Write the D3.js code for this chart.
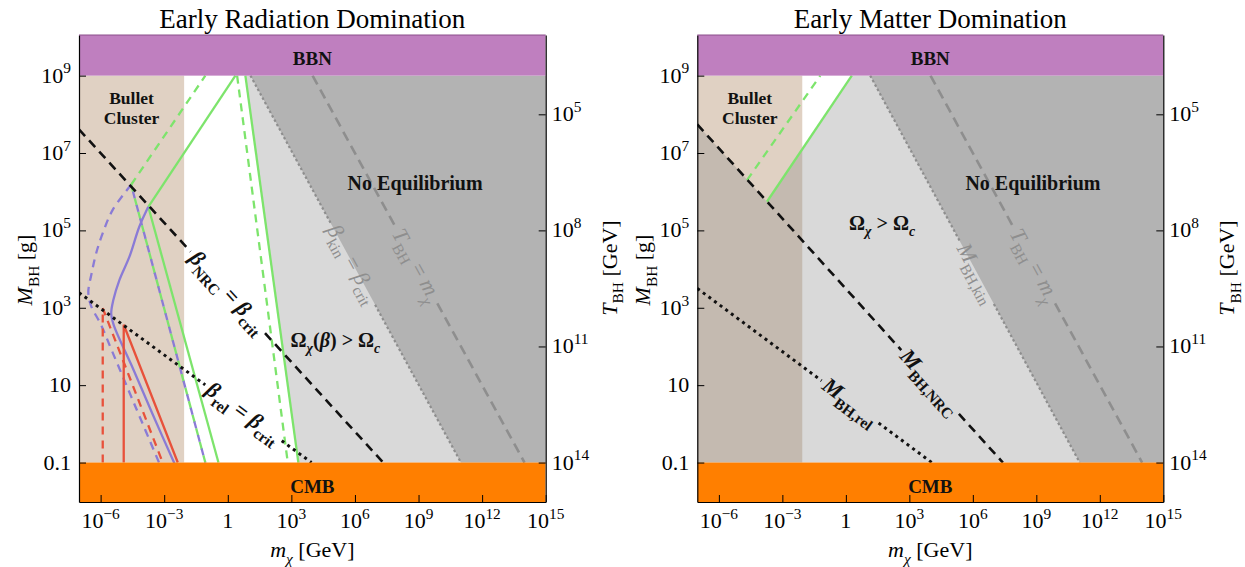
<!DOCTYPE html>
<html>
<head>
<meta charset="utf-8">
<script src="https://d3js.org/d3.v7.min.js"></script>
<style>
  body { margin: 0; background: #fff; }
  svg { font-family: "Liberation Serif", "DejaVu Serif", serif; }
</style>
</head>
<body>
<svg width="1245" height="567"></svg>
<script>
// every curve value is [log10 m_chi / GeV, log10 M_BH / g]
var xTicks = [-6, -3, 0, 3, 6, 9, 12, 15];
var yTicks = [9, 7, 5, 3, 1, -1];
var yTickLabels = ["9", "7", "5", "3", "10", "0.1"];
var tTicks = [5, 8, 11, 14];          // T_BH in GeV, T_BH = 1e13 g GeV / M_BH
var bbnMass = 9, cmbMass = -1, bulletMass = -2.06;

// early radiation domination
var nrcRD = [[-7.02, 7.61], [7.33, -1]];
var relRD = [[-7.02, 3.39], [3.95, -1]];
var kinRD = [[1.07, 9], [11.0, -1]];
var tbhRD = [[4, 9], [14, -1]];
var greenRiseRD = [[-3.75, 5.61], [0.36, 9]];
var greenSteepRD = [[0.83, 9], [3.33, -1]];
var greenLowRD = [[-3.75, 5.61], [-0.44, -1]];
var greenRiseDashRD = [[-4.56, 6.18], [-1.06, 9]];
var greenSteepDashRD = [[0.44, 9], [2.83, -1]];
var greenLowDashRD = [[-4.56, 6.18], [-1.06, -1]];
var purpleRD = [[-3.75, 5.61], [-4.17, 5.10], [-4.64, 4.32], [-5.11, 3.72], [-5.40, 3.20],
  [-5.50, 2.85], [-5.38, 2.55], [-4.49, 1.45], [-3.54, 0.24], [-2.52, -1.02]];
var purpleDashRD = [[-4.56, 6.18], [-5.43, 5.53], [-5.90, 4.93], [-6.21, 4.41], [-6.42, 3.90],
  [-6.58, 3.40], [-6.45, 3.05], [-6.0, 2.58], [-5.43, 1.84], [-4.33, 0.41], [-3.23, -1.02]];
var redRD = [[-4.91, -1], [-4.91, 2.56], [-2.36, -1]];
var redDashRD = [[-5.90, -1], [-5.90, 2.99], [-3.07, -1]];

// early matter domination
var nrcMD = [[-7.02, 7.74], [7.42, -1]];
var relMD = [[-7.02, 3.50], [4.06, -1]];
var kinMD = [[1.15, 9], [11.05, -1]];
var tbhMD = [[4, 9], [14, -1]];
var greenRiseMD = [[-3.73, 5.74], [0.28, 9]];
var greenRiseDashMD = [[-4.67, 6.30], [-1.21, 9]];

var svg = d3.select("svg");
var plotTop = 35, plotBottom = 502;
var green = "#7de46c", purple = "#8a7bd6", red = "#e8513b", grey = "#8e8e8e";

var y = d3.scaleLog().domain([Math.pow(10, -2.02), Math.pow(10, 10.05)]).range([plotBottom, plotTop]);

function rich(sel, parts, size) {
  var cur = 0;
  parts.forEach(function (p) {
    var off = p.sub ? size * 0.3 : p.sup ? -size * 0.42 : 0;
    var ts = sel.append("tspan").text(p.t).attr("dy", off - cur);
    cur = off;
    if (p.sub || p.sup) ts.attr("font-size", size * 0.7);
    if (p.i) ts.attr("font-style", "italic");
    if (p.b) ts.attr("font-weight", "bold");
  });
}

function beta(sub) { return [{ t: "β", i: true }, { t: sub, sub: true }]; }

var panels = [
  {
    left: 79, right: 545.7, title: "Early Radiation Domination",
    nrc: nrcRD, rel: relRD, kin: kinRD, tbh: tbhRD,
    lightGrey: greenSteepRD.concat([[15.5, -1], [15.5, 9]]),
    curves: [
      { d: greenRiseRD, c: green }, { d: greenSteepRD, c: green }, { d: greenLowRD, c: green },
      { d: greenRiseDashRD, c: green, dash: "8,6" }, { d: greenSteepDashRD, c: green, dash: "8,6" },
      { d: greenLowDashRD, c: green, dash: "8,6" },
      { d: greenLowDashRD, c: purple, dash: "7,7", off: 7 },
      { d: purpleRD, c: purple, smooth: true }, { d: purpleDashRD, c: purple, dash: "8,6", smooth: true },
      { d: redRD, c: red }, { d: redDashRD, c: red, dash: "8,6" }
    ],
    nrcLabel: { at: 0.0, parts: beta("NRC").concat([{ t: " = " }], beta("crit")) },
    relLabel: { at: 0.74, parts: beta("rel").concat([{ t: " = " }], beta("crit")) },
    kinLabel: { at: 5.9, parts: beta("kin").concat([{ t: " = " }], beta("crit")) },
    tbhLabel: { at: 8.9, parts: [{ t: "T", i: true }, { t: "BH", sub: true }, { t: " = " }, { t: "m", i: true }, { t: "χ", sub: true, i: true }] },
    omega: { at: [5.08, 1.99], parts: [{ t: "Ω" }, { t: "χ", sub: true, i: true }, { t: "(" }, { t: "β", i: true }, { t: ") > Ω" }, { t: "c", sub: true, i: true }] }
  },
  {
    left: 697.3, right: 1163.3, title: "Early Matter Domination",
    nrc: nrcMD, rel: relMD, kin: kinMD, tbh: tbhMD,
    lightGrey: [nrcMD[0]].concat(greenRiseMD, [[15.5, 9], [15.5, -1], [-7.02, -1]]),
    curves: [
      { d: greenRiseMD, c: green }, { d: greenRiseDashMD, c: green, dash: "8,6" }
    ],
    nrcLabel: { at: 3.98, parts: [{ t: "M", i: true }, { t: "BH,NRC", sub: true }] },
    relLabel: { at: 0.2, parts: [{ t: "M", i: true }, { t: "BH,rel", sub: true }] },
    kinLabel: { at: 6.2, parts: [{ t: "M", i: true }, { t: "BH,kin", sub: true }] },
    tbhLabel: { at: 8.9, parts: [{ t: "T", i: true }, { t: "BH", sub: true }, { t: " = " }, { t: "m", i: true }, { t: "χ", sub: true, i: true }] },
    omega: { at: [1.71, 5.0], parts: [{ t: "Ω" }, { t: "χ", sub: true, i: true }, { t: " > Ω" }, { t: "c", sub: true, i: true }] }
  }
];

panels.forEach(function (pn, k) {
  var x = d3.scaleLog().domain([Math.pow(10, -7.02), 1e15]).range([pn.left, pn.right]);
  var P = function (d) { return [x(Math.pow(10, d[0])), y(Math.pow(10, d[1]))]; };
  var line = d3.line().x(function (d) { return P(d)[0]; }).y(function (d) { return P(d)[1]; });
  var smooth = d3.line().x(function (d) { return P(d)[0]; }).y(function (d) { return P(d)[1]; })
    .curve(d3.curveCatmullRom.alpha(0.5));

  var clipId = "clip" + k;
  svg.append("clipPath").attr("id", clipId).append("rect")
    .attr("x", pn.left).attr("y", plotTop)
    .attr("width", pn.right - pn.left).attr("height", plotBottom - plotTop);

  var g = svg.append("g").attr("clip-path", "url(#" + clipId + ")");
  var x0 = x.domain()[0];

  // regions
  g.append("rect")
    .attr("x", x(x0)).attr("y", y(Math.pow(10, bbnMass)))
    .attr("width", x(Math.pow(10, bulletMass)) - x(x0))
    .attr("height", y(Math.pow(10, cmbMass)) - y(Math.pow(10, bbnMass)))
    .attr("fill", "#e0d1c3");
  g.append("path").attr("d", line(pn.lightGrey) + "Z").attr("fill", "#888").attr("fill-opacity", 0.32);
  g.append("path").attr("d", line(pn.kin.concat([[15.5, -1], [15.5, 9]])) + "Z").attr("fill", "#b3b3b3");

  var lineG = g.append("g").attr("fill", "none");
  var labelG = svg.append("g");

  // line with a gap where its label sits
  function labelled(pts, lab, style, font) {
    var a = P(pts[0]), b = P(pts[1]);
    var dx = b[0] - a[0], dy = b[1] - a[1], len = Math.hypot(dx, dy);
    var f = (lab.at - pts[0][0]) / (pts[1][0] - pts[0][0]);
    var c = [a[0] + f * dx, a[1] + f * dy];
    var ang = Math.atan2(dy, dx) * 180 / Math.PI;
    var t = labelG.append("text")
      .attr("transform", "translate(" + c + ") rotate(" + ang + ")")
      .attr("y", font.size * 0.3)
      .attr("text-anchor", "middle")
      .attr("font-size", font.size)
      .attr("font-weight", font.weight)
      .attr("fill", font.color);
    rich(t, lab.parts, font.size);
    var half = t.node().getBBox().width / 2 + 3;
    var ux = dx / len, uy = dy / len;
    [[a, [c[0] - half * ux, c[1] - half * uy]], [[c[0] + half * ux, c[1] + half * uy], b]].forEach(function (s) {
      var l = lineG.append("line")
        .attr("x1", s[0][0]).attr("y1", s[0][1]).attr("x2", s[1][0]).attr("y2", s[1][1]);
      style(l);
    });
  }

  labelled(pn.kin, pn.kinLabel, function (l) {
    l.attr("stroke", grey).attr("stroke-width", 2.2).attr("stroke-dasharray", "2.5,2.5");
  }, { size: 22, weight: "normal", color: grey });
  labelled(pn.tbh, pn.tbhLabel, function (l) {
    l.attr("stroke", grey).attr("stroke-width", 2.6).attr("stroke-dasharray", "10,6");
  }, { size: 22, weight: "normal", color: grey });

  pn.curves.forEach(function (cv) {
    lineG.append("path")
      .attr("d", (cv.smooth ? smooth : line)(cv.d))
      .attr("stroke", cv.c).attr("stroke-width", 2.3)
      .attr("stroke-dasharray", cv.dash || null)
      .attr("stroke-dashoffset", cv.off || 0);
  });

  labelled(pn.nrc, pn.nrcLabel, function (l) {
    l.attr("stroke", "#111").attr("stroke-width", 2.6).attr("stroke-dasharray", "9,6");
  }, { size: 22, weight: "bold", color: "#111" });
  labelled(pn.rel, pn.relLabel, function (l) {
    l.attr("stroke", "#111").attr("stroke-width", 3).attr("stroke-dasharray", "3,4");
  }, { size: 22, weight: "bold", color: "#111" });

  // BBN and CMB bands
  g.append("rect").attr("x", pn.left).attr("width", pn.right - pn.left)
    .attr("y", plotTop).attr("height", y(Math.pow(10, bbnMass)) - plotTop).attr("fill", "#bf7fbf");
  g.append("rect").attr("x", pn.left).attr("width", pn.right - pn.left)
    .attr("y", y(Math.pow(10, cmbMass))).attr("height", plotBottom - y(Math.pow(10, cmbMass))).attr("fill", "#ff7f00");

  labelG.raise();
  var cx = (pn.left + pn.right) / 2;
  var bold = function (txt, px, py, size) {
    return labelG.append("text").attr("x", px).attr("y", py).attr("text-anchor", "middle")
      .attr("font-weight", "bold").attr("font-size", size).attr("fill", "#111").text(txt);
  };
  bold("BBN", cx, 65, 19);
  bold("CMB", cx, 493, 19);
  var bx = (x(x0) + x(Math.pow(10, bulletMass))) / 2;
  bold("Bullet", bx, 104, 17.5);
  bold("Cluster", bx, 124, 17.5);
  var ne = P([8.84, 6.04]);
  bold("No Equilibrium", ne[0], ne[1], 20);
  var om = P(pn.omega.at);
  var ot = labelG.append("text").attr("x", om[0]).attr("y", om[1]).attr("text-anchor", "middle")
    .attr("font-weight", "bold").attr("font-size", 20).attr("fill", "#111");
  rich(ot, pn.omega.parts, 20);

  // axes with inward ticks
  svg.append("g").attr("transform", "translate(0," + plotBottom + ")")
    .call(d3.axisBottom(x).tickValues(xTicks.map(function (v) { return Math.pow(10, v); }))
      .tickSize(-7).tickSizeOuter(0).tickFormat(""));
  svg.append("g").attr("transform", "translate(" + pn.left + ",0)")
    .call(d3.axisLeft(y).tickValues(yTicks.map(function (v) { return Math.pow(10, v); }))
      .tickSize(-7).tickSizeOuter(0).tickFormat(""));
  svg.append("g").attr("transform", "translate(" + pn.right + ",0)")
    .call(d3.axisRight(y).tickValues(tTicks.map(function (v) { return Math.pow(10, 13 - v); }))
      .tickSize(-7).tickSizeOuter(0).tickFormat(""));
  svg.selectAll(".domain").attr("stroke", "#000").attr("stroke-width", 1.2);
  svg.append("line").attr("x1", pn.left).attr("x2", pn.right).attr("y1", plotTop).attr("y2", plotTop)
    .attr("stroke", "#8a4f8a").attr("stroke-width", 1);

  xTicks.forEach(function (v) {
    var t = svg.append("text").attr("x", x(Math.pow(10, v))).attr("y", 528)
      .attr("text-anchor", "middle").attr("font-size", 22);
    if (v === 0) t.text("1");
    else rich(t, [{ t: "10" }, { t: String(v).replace("-", "−"), sup: true }], 22);
  });
  yTicks.forEach(function (v, i) {
    var t = svg.append("text").attr("x", pn.left - 8).attr("y", y(Math.pow(10, v)) + 7)
      .attr("text-anchor", "end").attr("font-size", 22);
    var s = yTickLabels[i];
    if (s === "10" || s === "0.1") t.text(s);
    else rich(t, [{ t: "10" }, { t: s, sup: true }], 22);
  });
  tTicks.forEach(function (v) {
    var t = svg.append("text").attr("x", pn.right + 6).attr("y", y(Math.pow(10, 13 - v)) + 7)
      .attr("text-anchor", "start").attr("font-size", 22);
    rich(t, [{ t: "10" }, { t: String(v), sup: true }], 22);
  });

  // titles and axis labels
  svg.append("text").attr("x", cx).attr("y", 28).attr("text-anchor", "middle")
    .attr("font-size", 27).text(pn.title);
  var xl = svg.append("text").attr("x", cx).attr("y", 557).attr("text-anchor", "middle").attr("font-size", 22);
  rich(xl, [{ t: "m", i: true }, { t: "χ", sub: true, i: true }, { t: " [GeV]" }], 22);
  var yl = svg.append("text").attr("transform", "translate(" + (pn.left - 47) + ",270) rotate(-90)")
    .attr("text-anchor", "middle").attr("font-size", 22);
  rich(yl, [{ t: "M", i: true }, { t: "BH", sub: true }, { t: " [g]" }], 22);
  var tl = svg.append("text").attr("transform", "translate(" + (pn.right + 71) + ",268) rotate(-90)")
    .attr("text-anchor", "middle").attr("font-size", 22);
  rich(tl, [{ t: "T", i: true }, { t: "BH", sub: true }, { t: " [GeV]" }], 22);
});
</script>
</body>
</html>
